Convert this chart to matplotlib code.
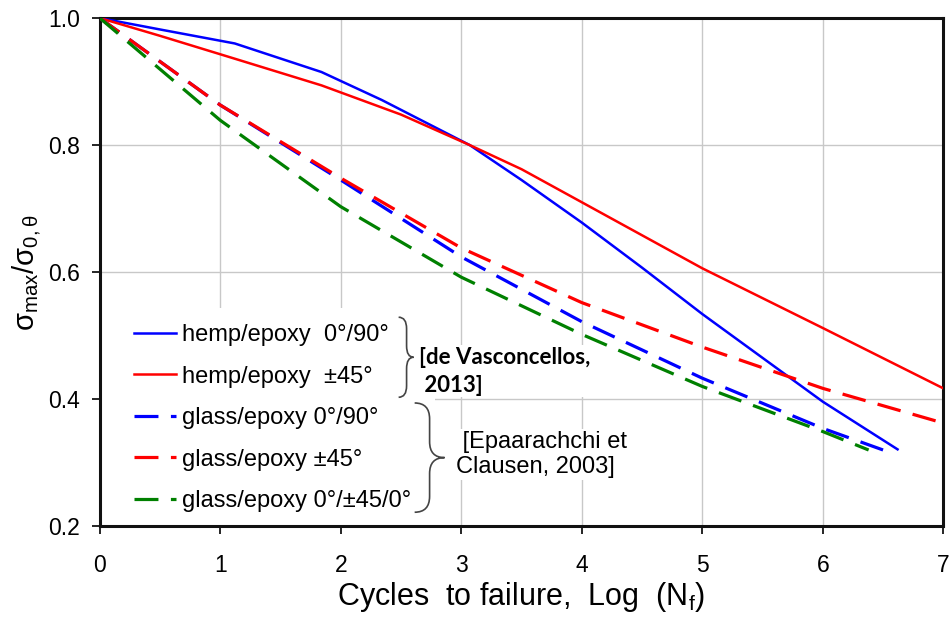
import matplotlib
matplotlib.use('Agg')
import matplotlib.pyplot as plt
from matplotlib.path import Path
from matplotlib.patches import PathPatch, Rectangle

plt.rcParams['font.family'] = ['Liberation Sans', 'DejaVu Sans']
plt.rcParams['mathtext.default'] = 'regular'

# hemp/epoxy curves [de Vasconcellos, 2013]
hemp_090_x = [0, 0.5, 1.12, 1.84, 2.34, 3.07, 3.5, 4.0, 4.5, 5.0, 5.5, 6.0, 6.62]
hemp_090_y = [1.0, 0.982, 0.96, 0.915, 0.871, 0.80, 0.745, 0.678, 0.607, 0.534, 0.465, 0.396, 0.321]
hemp_45_x = [0, 0.5, 1.12, 1.84, 2.5, 3.07, 3.5, 4.0, 5.0, 6.0, 7.0]
hemp_45_y = [1.0, 0.972, 0.936, 0.894, 0.848, 0.80, 0.762, 0.71, 0.606, 0.512, 0.417]

# glass/epoxy curves [Epaarachchi et Clausen, 2003]
glass_090_x = [0, 1, 2, 3, 4, 5, 6, 6.5]
glass_090_y = [1.0, 0.863, 0.745, 0.624, 0.522, 0.433, 0.354, 0.32]
glass_45_x = [0, 1, 2, 3, 4, 5, 6, 6.97]
glass_45_y = [1.0, 0.863, 0.748, 0.638, 0.552, 0.482, 0.417, 0.364]
glass_mix_x = [0, 1, 2, 3, 4, 5, 6, 6.38]
glass_mix_y = [1.0, 0.839, 0.703, 0.592, 0.502, 0.42, 0.349, 0.32]

labels = ['hemp/epoxy  0°/90°', 'hemp/epoxy  ±45°', 'glass/epoxy 0°/90°',
          'glass/epoxy ±45°', 'glass/epoxy 0°/±45/0°']
x_ticks = [0, 1, 2, 3, 4, 5, 6, 7]
y_ticks = [0.2, 0.4, 0.6, 0.8, 1.0]


def brace(ax, x0, xv, xtip, ytop, ybot, r=0.018):
    # curly bracket opening to the right, in data coords
    ym = (ytop + ybot) / 2
    verts = [(x0, ytop), (xv, ytop), (xv, ytop - r),
             (xv, ym + r), (xv, ym), (xtip, ym),
             (xv, ym), (xv, ym - r),
             (xv, ybot + r), (xv, ybot), (x0, ybot)]
    codes = [Path.MOVETO, Path.CURVE3, Path.CURVE3,
             Path.LINETO, Path.CURVE3, Path.CURVE3,
             Path.CURVE3, Path.CURVE3,
             Path.LINETO, Path.CURVE3, Path.CURVE3]
    ax.add_patch(PathPatch(Path(verts, codes), fill=False, edgecolor='#444444',
                           lw=1.2, zorder=2.5))


fig = plt.figure(figsize=(9.5, 6.22), dpi=100)
ax = fig.add_axes([0.105, 0.154, 0.888, 0.817])

dash = (7.5, 3.9)
ax.plot(hemp_090_x, hemp_090_y, color='#0000ff', lw=1.8, label=labels[0], zorder=3)
ax.plot(hemp_45_x, hemp_45_y, color='#ff0000', lw=1.8, label=labels[1], zorder=3)
ax.plot(glass_090_x, glass_090_y, color='#0000ff', lw=2.3, dashes=dash, label=labels[2], zorder=3)
ax.plot(glass_45_x, glass_45_y, color='#ff0000', lw=2.3, dashes=dash, label=labels[3], zorder=3)
ax.plot(glass_mix_x, glass_mix_y, color='#008000', lw=2.3, dashes=dash, label=labels[4], zorder=3)

ax.set_xlim(0, 7)
ax.set_ylim(0.2, 1.0)
ax.set_xticks(x_ticks)
ax.set_yticks(y_ticks)
ax.set_xticklabels([str(t) for t in x_ticks])
ax.set_yticklabels(['%.1f' % t for t in y_ticks])
ax.tick_params(direction='out', length=6, width=1.2, labelsize=16.5, pad=8)
ax.xaxis.set_tick_params(pad=14)
ax.set_axisbelow(True)
ax.grid(True, color='#c8c8c8', lw=1)
for s in ax.spines.values():
    s.set_linewidth(2.2)
    s.set_color('#111111')

ax.set_xlabel('Cycles  to failure,  Log  ($N_f$)', fontsize=22, labelpad=2)
ax.set_ylabel(r'$\sigma_{max}/\sigma_{0,\theta}$', fontsize=21, labelpad=4)

# white area behind the legend hides the grid
ax.add_patch(Rectangle((0, 0), 0.397, 0.43, transform=ax.transAxes,
                       facecolor='white', edgecolor='none', zorder=1))

leg = ax.legend(loc='upper left', bbox_to_anchor=(0.041, 0.398), frameon=False,
                fontsize=17, handlelength=1.75, handletextpad=0.25,
                labelspacing=0.83, borderpad=0, borderaxespad=0)

brace(ax, 2.48, 2.546, 2.604, 0.529, 0.403)
brace(ax, 2.613, 2.737, 2.861, 0.394, 0.222, r=0.025)

ax.text(2.65, 0.444, '[de Vasconcellos,\n 2013]', fontsize=16, fontweight='bold',
        family=['Lato', 'DejaVu Sans'], ha='left', va='center', linespacing=1.4,
        zorder=2, bbox=dict(facecolor='white', edgecolor='none', pad=1))
ax.text(2.96, 0.313, ' [Epaarachchi et\nClausen, 2003]', fontsize=17, ha='left',
        va='center', linespacing=1.2, zorder=2,
        bbox=dict(facecolor='white', edgecolor='none', pad=1))

plt.savefig('out.png', dpi=100)
plt.close(fig)
